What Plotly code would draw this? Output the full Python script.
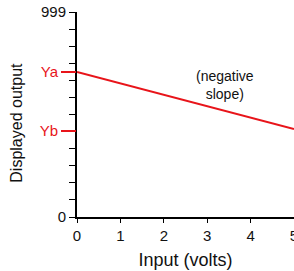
import plotly.graph_objects as go

# Data
input_volts = [0, 5]
displayed_output = [707, 429]
y_max = 999
y_tick_values = [round(y_max * k / 12, 2) for k in range(13)]
y_tick_labels = ["0"] + [""] * 11 + ["999"]
marker_levels = [707, 420]
marker_labels = ["Ya", "Yb"]
x_tick_values = [0, 1, 2, 3, 4, 5]
x_tick_labels = ["0", "1", "2", "3", "4", "5"]

RED = "#e8141a"
FONT = "Liberation Sans, Arial, sans-serif"

fig = go.Figure()
fig.add_trace(go.Scatter(x=input_volts, y=displayed_output, mode="lines",
                         line=dict(color=RED, width=2), showlegend=False,
                         hoverinfo="skip", cliponaxis=False))
fig.add_trace(go.Scatter(x=[0], y=[0], yaxis="y2", mode="markers",
                         marker=dict(opacity=0), showlegend=False, hoverinfo="skip"))

fig.update_layout(
    width=294, height=271,
    margin=dict(l=77, r=0, t=12, b=54, autoexpand=False),
    paper_bgcolor="white", plot_bgcolor="white",
    font=dict(family=FONT, size=15, color="#111"),
    xaxis=dict(range=[0, 5], tickvals=x_tick_values, ticktext=x_tick_labels,
               showgrid=False, zeroline=False, showline=True, linecolor="black",
               linewidth=2, ticks="outside", ticklen=4, tickcolor="black",
               automargin=False, ticklabeloverflow="allow",
               title=dict(text="Input (volts)", standoff=10), tickfont=dict(size=15)),
    yaxis=dict(range=[0, y_max], tickvals=y_tick_values, ticktext=y_tick_labels,
               showgrid=False, zeroline=False, showline=True, linecolor="black",
               linewidth=2, ticks="outside", ticklen=6, tickcolor="black",
               automargin=False, ticklabeloverflow="allow",
               tickfont=dict(size=15)),
    yaxis2=dict(range=[0, y_max], overlaying="y", side="left", tickvals=marker_levels,
                ticktext=marker_labels, showgrid=False, zeroline=False, showline=False,
                ticks="outside", ticklen=15, tickwidth=2, tickcolor=RED,
                automargin=False,
                tickfont=dict(size=15, color=RED)),
    annotations=[
        dict(x=3.4, y=645, xref="x", yref="y", text="(negative<br>slope)",
             showarrow=False, font=dict(size=14, color="#111")),
        dict(x=0, y=0.46, xref="paper", yref="paper", xshift=-60, text="Displayed output",
             textangle=-90, showarrow=False, xanchor="center", yanchor="middle",
             font=dict(size=16, color="#111")),
    ],
)

fig.write_html("out.html", config={"displayModeBar": False},
               post_script="document.body.style.margin='0';document.body.style.overflow='hidden';")
